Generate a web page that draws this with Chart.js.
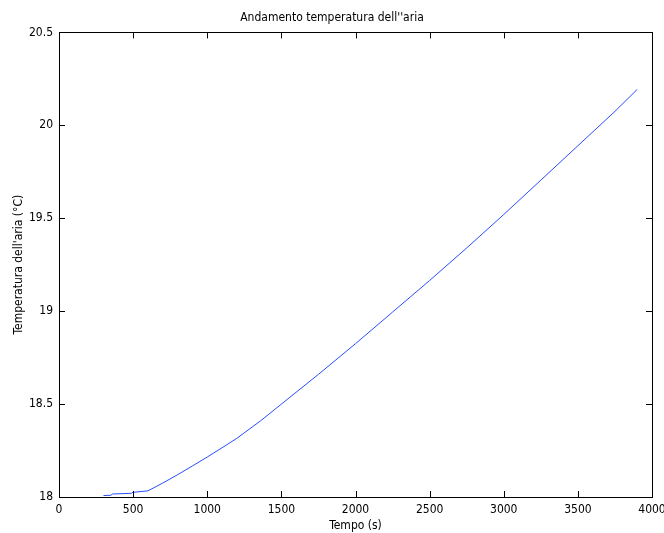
<!DOCTYPE html>
<html>
<head>
<meta charset="utf-8">
<script src="https://cdn.jsdelivr.net/npm/chart.js@4/dist/chart.umd.min.js"></script>
<style>
  html, body { margin: 0; padding: 0; background: #fff; }
  #wrap { width: 664px; height: 533px; }
</style>
</head>
<body>
<div id="wrap"><canvas id="chartTemperatura"></canvas></div>
<script>
// tempo (s) e temperatura dell'aria (°C)
const tempo = [300, 350, 360, 490, 500, 510, 600, 700, 800, 900, 1000, 1100, 1200, 1360, 1500, 1750, 2000, 2250, 2500, 2750, 3000, 3250, 3500, 3750, 3900];
const temperatura = [18.008, 18.009, 18.016, 18.02, 18.028, 18.026, 18.033, 18.075, 18.12, 18.167, 18.215, 18.265, 18.316, 18.41, 18.5, 18.66, 18.825, 18.995, 19.165, 19.34, 19.52, 19.705, 19.89, 20.075, 20.193];
const tickX = [0, 500, 1000, 1500, 2000, 2500, 3000, 3500, 4000];
const tickY = [18, 18.5, 19, 19.5, 20, 20.5];

const font = { family: "'Liberation Sans Narrow', 'DejaVu Sans Condensed', 'Liberation Sans', sans-serif", size: 12 };

// box attorno al grafico con tacche verso l'interno (stile matlab)
const boxPlugin = {
    id: 'box',
    afterDraw(chart) {
        const ctx = chart.ctx;
        const a = chart.chartArea;
        const sx = chart.scales.x, sy = chart.scales.y;
        ctx.save();
        ctx.strokeStyle = '#000';
        ctx.lineWidth = 1;
        ctx.strokeRect(Math.round(a.left) + 0.5, Math.round(a.top) + 0.5, Math.round(a.right - a.left), Math.round(a.bottom - a.top));
        ctx.beginPath();
        tickX.forEach(v => {
            const x = Math.round(sx.getPixelForValue(v)) + 0.5;
            ctx.moveTo(x, a.bottom); ctx.lineTo(x, a.bottom - 6);
            ctx.moveTo(x, a.top); ctx.lineTo(x, a.top + 6);
        });
        tickY.forEach(v => {
            const y = Math.round(sy.getPixelForValue(v)) + 0.5;
            ctx.moveTo(a.left, y); ctx.lineTo(a.left + 6, y);
            ctx.moveTo(a.right, y); ctx.lineTo(a.right - 6, y);
        });
        ctx.stroke();
        ctx.restore();
    }
};

const dataTemperatura = {
    datasets: [{
        label: 'temperatura',
        data: tempo.map((t, i) => ({ x: t, y: temperatura[i] })),
        borderColor: '#2a4dff',
        borderWidth: 1,
        pointRadius: 0,
        tension: 0
    }]
};

const configTemperatura = {
    type: 'line',
    data: dataTemperatura,
    plugins: [boxPlugin],
    options: {
        responsive: false,
        animation: false,
        layout: { padding: { top: 0, right: 0, left: 0, bottom: 0 } },
        plugins: {
            legend: { display: false },
            tooltip: { enabled: false },
            title: {
                display: true,
                text: "Andamento temperatura dell''aria",
                color: '#000',
                font: { family: font.family, size: 12, weight: 'normal' },
                padding: { top: 11, bottom: 7 }
            }
        },
        scales: {
            x: {
                type: 'linear',
                min: 0,
                max: 4000,
                afterBuildTicks: s => { s.ticks = tickX.map(v => ({ value: v })); },
                afterFit: s => { s.height = 36; s.paddingRight = 12; },
                grid: { display: false, drawTicks: false },
                border: { display: false },
                ticks: { color: '#000', font: font, padding: 6, maxRotation: 0, callback: v => String(v) },
                title: { display: true, text: 'Tempo (s)', color: '#000', font: font, padding: { top: 2, bottom: 0 } }
            },
            y: {
                type: 'linear',
                min: 18,
                max: 20.5,
                afterBuildTicks: s => { s.ticks = tickY.map(v => ({ value: v })); },
                afterFit: s => { s.width = 59; },
                grid: { display: false, drawTicks: false },
                border: { display: false },
                ticks: { color: '#000', font: font, padding: 6, callback: v => String(v) },
                title: { display: true, text: "Temperatura dell'aria (°C)", color: '#000', font: font, padding: { top: 12, bottom: 0 } }
            }
        }
    }
};

const canvas = document.getElementById('chartTemperatura');
canvas.width = 664;
canvas.height = 533;
var chartTemperatura = new Chart(canvas, configTemperatura);
</script>
</body>
</html>
